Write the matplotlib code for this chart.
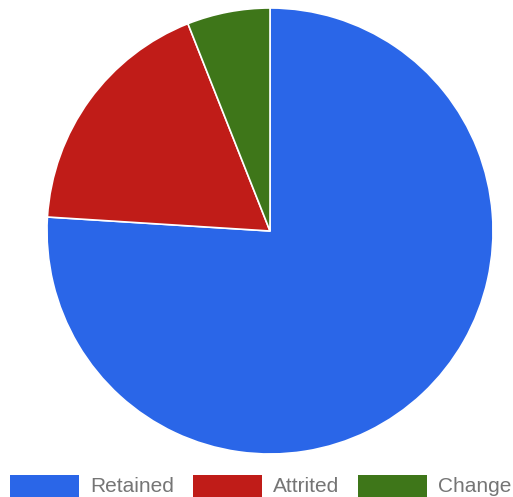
import matplotlib.pyplot as plt
from matplotlib.patches import Rectangle

labels = ['Retained', 'Attrited', 'Change']
values = [76, 18, 6]
colors = ['#2a66e8', '#c01c18', '#3e7619']

W, H = 513, 497
fig = plt.figure(figsize=(W / 100, H / 100), dpi=100)

# pie area in pixel units
cx, cy, r = 270, 231, 223
ax = fig.add_axes([(cx - r) / W, (H - cy - r) / H, 2 * r / W, 2 * r / H])
ax.pie(values, colors=colors, startangle=90, counterclock=False,
       wedgeprops=dict(edgecolor='white', linewidth=1.2))
ax.set_xlim(-1, 1)
ax.set_ylim(-1, 1)
ax.set_aspect('equal')
ax.axis('off')

# legend along the bottom edge
box_x = [10, 193, 358]
for x, lab, col in zip(box_x, labels, colors):
    fig.patches.append(Rectangle((x / W, 0), 69 / W, 22 / H, transform=fig.transFigure,
                                 facecolor=col, edgecolor='none'))
    fig.text((x + 80) / W, 5 / H, lab, fontsize=15, color='#757575',
             family='Liberation Sans', ha='left', va='baseline')

fig.savefig('out.png', dpi=100)
